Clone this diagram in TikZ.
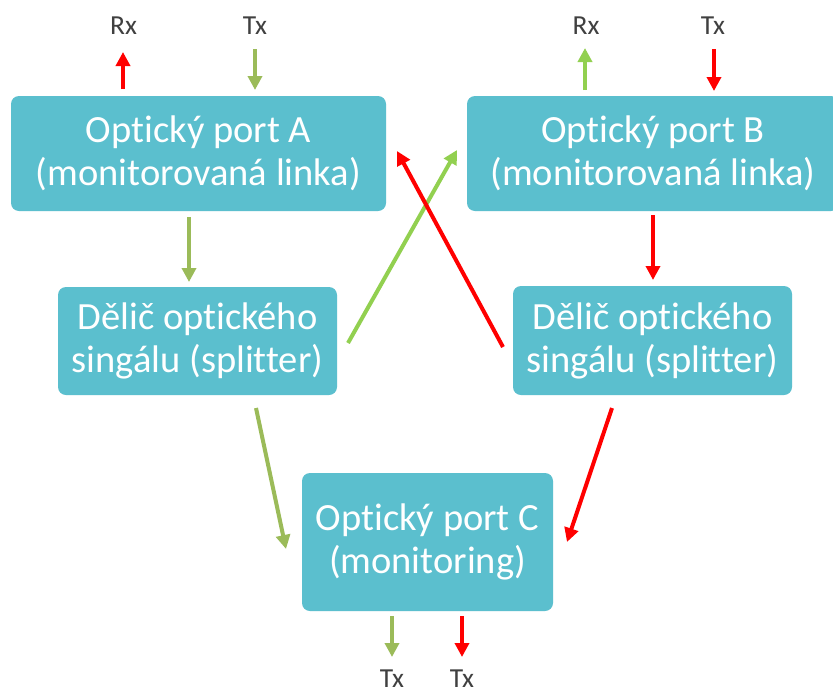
\documentclass[tikz,border=0pt]{standalone}
\usepackage{fontspec}
\setmainfont[Ligatures=NoCommon]{Carlito}
\usetikzlibrary{arrows.meta}
\definecolor{boxfill}{RGB}{91,191,206}
\definecolor{sigred}{RGB}{255,0,0}
\definecolor{sigolive}{RGB}{155,187,89}
\definecolor{siglime}{RGB}{146,208,80}
\definecolor{labelgray}{RGB}{64,64,64}
\tikzset{
  portbox/.style={fill=boxfill, rounded corners=8pt, inner sep=0pt,
    text=white, align=center, font=\fontsize{38.5}{43}\selectfont},
  sig/.style={line width=4pt, -{Triangle[width=14pt,length=14pt]}},
  redsig/.style={sig, draw=sigred, fill=sigred},
  olivesig/.style={sig, draw=sigolive, fill=sigolive},
  limesig/.style={sig, draw=siglime, fill=siglime},
  iolabel/.style={anchor=base, inner sep=0pt, text=labelgray,
    font=\fontsize{27.5}{30}\selectfont},
}
\begin{document}
\begin{tikzpicture}[x=1pt, y=-1pt]
  \useasboundingbox (0,0) rectangle (833,691);
  \begin{scope}
  \clip (0,0) rectangle (833,691);
  \fill[white] (0,0) rectangle (833,691);

  % blocks
  \node[portbox, minimum width=375pt, minimum height=115pt] (A) at (198.5,153.5)
    {Optický port A\\(monitorovaná linka)};
  \node[portbox, minimum width=372pt, minimum height=115pt] (B) at (653,153.5)
    {Optický port B\\(monitorovaná linka)};
  \node[portbox, minimum width=279pt, minimum height=108pt] (SL) at (197.5,341)
    {Dělič optického\\singálu (splitter)};
  \node[portbox, minimum width=279pt, minimum height=109pt] (SR) at (652.5,340.5)
    {Dělič optického\\singálu (splitter)};
  \node[portbox, minimum width=251pt, minimum height=138pt] (C) at (427.5,542)
    {Optický port C\\(monitoring)};
  \end{scope}

  % port labels
  \node[iolabel] (aRx) at (123.5,34) {Rx};
  \node[iolabel] (aTx) at (255,34) {Tx};
  \node[iolabel] (bRx) at (586,34) {Rx};
  \node[iolabel] (bTx) at (713,34) {Tx};
  \node[iolabel] (cTx1) at (392,687) {Tx};
  \node[iolabel] (cTx2) at (462,687) {Tx};

  % connector end points
  \coordinate (aRxS) at (123,89);  \coordinate (aRxE) at (123,52);
  \coordinate (aTxS) at (255,49);  \coordinate (aTxE) at (255,90);
  \coordinate (bRxS) at (585,90);  \coordinate (bRxE) at (585,48);
  \coordinate (bTxS) at (714,49);  \coordinate (bTxE) at (714,91);
  \coordinate (aDownS) at (189,217); \coordinate (aDownE) at (189,282);
  \coordinate (bDownS) at (653,215); \coordinate (bDownE) at (653,280);
  \coordinate (xGreenS) at (348,343); \coordinate (xGreenE) at (457,150);
  \coordinate (xRedS) at (503,347);   \coordinate (xRedE) at (397,151);
  \coordinate (lToCS) at (256,408);   \coordinate (lToCE) at (286,549);
  \coordinate (rToCS) at (612,408);   \coordinate (rToCE) at (567,542);
  \coordinate (cOut1S) at (392,616);  \coordinate (cOut1E) at (392,657);
  \coordinate (cOut2S) at (462,616);  \coordinate (cOut2E) at (462,657);

  % signal arrows
  \draw[redsig]   (aRxS) -- (aRxE);
  \draw[olivesig] (aTxS) -- (aTxE);
  \draw[limesig]  (bRxS) -- (bRxE);
  \draw[redsig]   (bTxS) -- (bTxE);
  \draw[olivesig] (aDownS) -- (aDownE);
  \draw[redsig]   (bDownS) -- (bDownE);
  \draw[limesig]  (xGreenS) -- (xGreenE);
  \draw[redsig]   (xRedS) -- (xRedE);
  \draw[olivesig] (lToCS) -- (lToCE);
  \draw[redsig]   (rToCS) -- (rToCE);
  \draw[olivesig] (cOut1S) -- (cOut1E);
  \draw[redsig]   (cOut2S) -- (cOut2E);
\end{tikzpicture}
\end{document}
